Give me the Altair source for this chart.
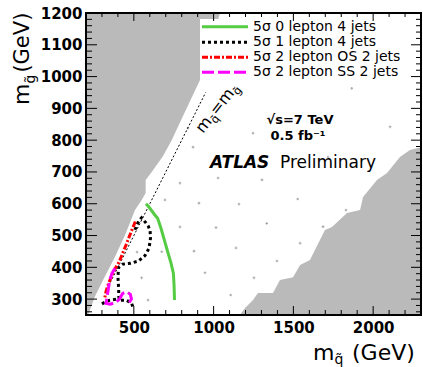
import math
import altair as alt
import pandas as pd

# ---------------------------------------------------------------- data
# 5 sigma discovery reach contours (squark mass, gluino mass) in GeV
green_x = [576, 597, 628, 649, 670, 691, 712, 733, 748, 752, 755]
green_y = [600, 588, 567, 554, 523, 486, 449, 413, 381, 344, 297]

black_a_x = [507, 520, 535, 548, 572, 590, 602, 604, 595, 570, 530, 480, 430, 405, 400, 405, 405, 410, 450, 485, 497]
black_a_y = [518, 535, 548, 556, 542, 530, 515, 490, 460, 437, 420, 413, 410, 400, 370, 330, 310, 296, 297, 288, 271]
black_b_x = [300, 335, 370, 400]
black_b_y = [285, 295, 298, 300]

red_x = [509, 490, 470, 451, 430, 409, 378, 360, 346, 335, 325, 318]
red_y = [544, 520, 495, 470, 445, 418, 392, 372, 355, 340, 323, 305]

magenta_x = [382, 362, 348, 340, 333, 325, 352, 385, 410, 430, 455, 478, 485, 470, 455]
magenta_y = [397, 380, 358, 332, 308, 287, 284, 289, 300, 318, 323, 315, 300, 288, 283]

# excluded regions (no valid model points)
left_bound_x = [213, 256, 307, 382, 445, 507, 549, 574, 574, 612, 683, 737, 831, 925, 982, 1040]
left_bound_y = [250, 308, 360, 433, 502, 580, 612, 634, 675, 700, 750, 800, 900, 1000, 1100, 1200]

right_bound_x = [1165, 1197, 1247, 1278, 1372, 1416, 1498, 1542, 1604, 1698, 1742, 1836, 1918, 1937, 2024, 2087, 2168, 2231, 2300]
right_bound_y = [250, 272, 297, 319, 319, 360, 369, 407, 423, 517, 527, 571, 580, 621, 675, 697, 747, 769, 778]

# grid points of the model scan
scan_x = [1866, 2106, 1247, 1717, 1028, 1303, 1159, 1527, 1015, 1333, 1686, 1140, 1542, 1397,
          946, 1253, 1107, 1830, 839, 871, 789, 695, 908, 789, 877, 520, 675, 549, 589]
scan_y = [963, 842, 822, 747, 681, 675, 599, 615, 525, 538, 528, 461, 476, 420,
          383, 367, 313, 580, 838, 778, 665, 612, 602, 527, 451, 448, 449, 367, 297]

diag = [330, 950]

legend_labels = ["5σ 0 lepton 4 jets", "5σ 1 lepton 4 jets",
                 "5σ 2 lepton OS 2 jets", "5σ 2 lepton SS 2 jets"]

x_domain = [200, 2300]
y_domain = [250, 1200]
x_major = [500, 1000, 1500, 2000]
x_minor = [v for v in range(300, 2300, 100) if v % 500 != 0]
y_major = list(range(300, 1200, 100))
y_minor = [v for v in range(260, 1200, 20) if v % 100 != 0]

# ---------------------------------------------------------------- style
W, H = 335, 302
FONT = "DejaVu Sans"
GREEN, RED, MAGENTA = "#55cc44", "#ff0000", "#ff00ff"
HATCH = "#bababa"

XS = alt.Scale(domain=x_domain, nice=False, zero=False)
YS = alt.Scale(domain=y_domain, nice=False, zero=False)
XA = alt.Axis(values=x_major, title=None, ticks=False, domain=False, grid=False, format="d",
              labelFont=FONT, labelFontWeight="bold", labelFontSize=15,
              labelColor="black", labelPadding=5, labelFlush=False)
YA = alt.Axis(values=list(range(300, 1201, 100)), title=None, ticks=False, domain=False,
              grid=False, format="d", labelFont=FONT, labelFontWeight="bold", labelFontSize=15,
              labelColor="black", labelPadding=4, labelFlush=False)


def X(field):
    return alt.X(f"{field}:Q", scale=XS, axis=XA)


def Y(field):
    return alt.Y(f"{field}:Q", scale=YS, axis=YA)


def path(xs, ys, seg="a"):
    return pd.DataFrame({"x": xs, "y": ys, "i": range(len(xs)), "seg": seg})


layers = []

# scan points
layers.append(alt.Chart(pd.DataFrame({"x": scan_x, "y": scan_y}))
              .mark_point(shape="cross", filled=True, size=7, color="#a8a8a8", opacity=1)
              .encode(x=X("x"), y=Y("y")))

# excluded regions
layers.append(alt.Chart(pd.DataFrame({"x": left_bound_x, "y": left_bound_y}))
              .mark_area(orient="horizontal", color=HATCH)
              .encode(y=Y("y"), x=X("x"), x2=alt.datum(x_domain[0])))
layers.append(alt.Chart(pd.DataFrame({"x": right_bound_x, "y": right_bound_y}))
              .mark_area(orient="vertical", color=HATCH)
              .encode(x=X("x"), y=Y("y"), y2=alt.datum(y_domain[0])))

# legend background
layers.append(alt.Chart().mark_rect(color="white")
              .encode(x=alt.value(114), x2=alt.value(W - 1), y=alt.value(6), y2=alt.value(67)))

# m_squark = m_gluino line
layers.append(alt.Chart(pd.DataFrame({"x": diag, "y": diag}))
              .mark_line(color="black", strokeWidth=1, strokeDash=[2, 2])
              .encode(x=X("x"), y=Y("y")))

# contours
styles = [
    (path(green_x, green_y), GREEN, []),
    (pd.concat([path(black_a_x, black_a_y, "a"), path(black_b_x, black_b_y, "b")]), "black", [3, 3]),
    (path(red_x, red_y), RED, [6, 2, 2, 2]),
    (path(magenta_x, magenta_y), MAGENTA, [12, 4]),
]
for df, col, dash in styles:
    mk = dict(color=col, strokeWidth=3, strokeCap="butt")
    if dash:
        mk["strokeDash"] = dash
    layers.append(alt.Chart(df).mark_line(**mk)
                  .encode(x=X("x"), y=Y("y"), order=alt.Order("i:Q"), detail="seg:N"))

# legend rows
row_y = [13.7, 29.3, 44.3, 59.3]
for (df, col, dash), ry, lab in zip(styles, row_y, legend_labels):
    mk = dict(color=col, strokeWidth=3, strokeCap="butt")
    if dash:
        mk["strokeDash"] = dash
    layers.append(alt.Chart().mark_rule(**mk)
                  .encode(x=alt.value(116), x2=alt.value(162), y=alt.value(ry)))
    layers.append(alt.Chart().mark_text(text=lab, font=FONT, fontSize=14, align="left",
                                        baseline="middle", color="black")
                  .encode(x=alt.value(167), y=alt.value(ry)))


def txt(s, x, y, size, weight="normal", style="normal", angle=0, align="left",
        baseline="alphabetic"):
    kw = dict(text=s, font=FONT, fontSize=size, fontWeight=weight, fontStyle=style,
              align=align, baseline=baseline, color="black")
    if angle:
        kw["angle"] = angle
    return alt.Chart().mark_text(**kw).encode(x=alt.value(x), y=alt.value(y))


# energy / luminosity / experiment labels
layers.append(txt("√s=7 TeV", 214, 111, 13, weight="bold", align="center"))
layers.append(txt("0.5 fb⁻¹", 212, 127, 13, weight="bold", align="center"))
layers.append(txt("ATLAS", 124, 155, 17, weight="bold", style="italic"))
layers.append(txt("Preliminary", 194, 155, 17))

# rotated label along the diagonal, built from pieces with subscripts
ang = -52.0
ux, uy = math.cos(math.radians(ang)), math.sin(math.radians(ang))
dx, dy = -math.sin(math.radians(ang)), math.cos(math.radians(ang))
sx, sy = 117, 121
for s, adv, off, size in [("m", 0, 0, 16), ("q\u0303", 15.6, 4, 11), ("=", 22.6, 0, 16),
                          ("m", 36.0, 0, 16), ("g\u0303", 51.6, 4, 11)]:
    layers.append(txt(s, sx + adv * ux + off * dx, sy + adv * uy + off * dy, size,
                      angle=360 + ang))

# axis titles
layers.append(txt("m", 227, 347, 22))
layers.append(txt("q\u0303", 248.4, 350.5, 14))
layers.append(txt("(GeV)", 266, 347, 22))
layers.append(txt("m", -57, 92, 22, angle=270))
layers.append(txt("g\u0303", -51.5, 70.6, 14, angle=270))
layers.append(txt("(GeV)", -57, 59.6, 21, angle=270))


# inward ticks on all four sides
def vticks(vals, y0, y1):
    return (alt.Chart(pd.DataFrame({"v": vals})).mark_rule(color="black", strokeWidth=1)
            .encode(x=X("v"), y=alt.value(y0), y2=alt.value(y1)))


def hticks(vals, x0, x1):
    return (alt.Chart(pd.DataFrame({"v": vals})).mark_rule(color="black", strokeWidth=1)
            .encode(y=Y("v"), x=alt.value(x0), x2=alt.value(x1)))


layers += [vticks(x_major, H, H - 9), vticks(x_minor, H, H - 5),
           vticks(x_major, 0, 8), vticks(x_minor, 0, 4),
           hticks(y_major, 0, 11), hticks(y_minor, 0, 6),
           hticks(y_major, W, W - 10), hticks(y_minor, W, W - 5)]

# frame
layers.append(alt.Chart().mark_rect(fill=None, stroke="black", strokeWidth=2)
              .encode(x=alt.value(0), x2=alt.value(W), y=alt.value(0), y2=alt.value(H)))

chart = (alt.layer(*layers)
         .properties(width=W, height=H,
                     autosize=alt.AutoSizeParams(type="none"),
                     padding={"left": 86, "top": 13, "right": 2, "bottom": 52})
         .configure(font=FONT)
         .configure_view(stroke=None))

chart.save("out.html", embed_options={"renderer": "svg", "actions": False})
